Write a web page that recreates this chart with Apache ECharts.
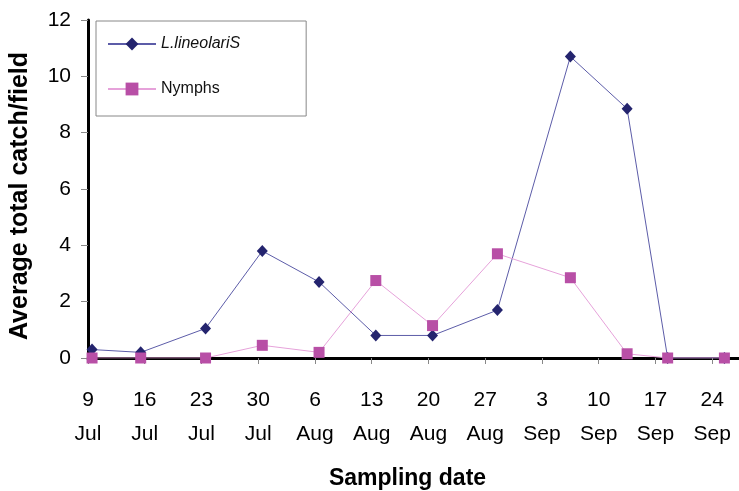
<!DOCTYPE html>
<html>
<head>
<meta charset="utf-8">
<script src="https://cdn.jsdelivr.net/npm/echarts@6/dist/echarts.min.js"></script>
<style>
html,body{margin:0;padding:0;background:#fff;}
#chart{width:739px;height:491px;}
</style>
</head>
<body>
<div id="chart"></div>
<script>
// Sampling dates (year arbitrary), first axis tick date
const axisStart = '2000-07-09';
const sampleDates = ['2000-07-09','2000-07-15','2000-07-23','2000-07-30','2000-08-06','2000-08-13','2000-08-20','2000-08-28','2000-09-06','2000-09-13','2000-09-18','2000-09-25'];
const adults = [0.3, 0.2, 1.05, 3.8, 2.7, 0.8, 0.8, 1.7, 10.7, 8.85, 0, 0];
const nymphs = [0, 0, 0, 0.45, 0.2, 2.75, 1.15, 3.7, 2.85, 0.15, 0, 0];
const tickDates = ['2000-07-09','2000-07-16','2000-07-23','2000-07-30','2000-08-06','2000-08-13','2000-08-20','2000-08-27','2000-09-03','2000-09-10','2000-09-17','2000-09-24'];
const tickLabels = ['9\nJul','16\nJul','23\nJul','30\nJul','6\nAug','13\nAug','20\nAug','27\nAug','3\nSep','10\nSep','17\nSep','24\nSep'];
const seriesNames = ['L.lineolariS', 'Nymphs'];

const DAY = 86400000;
const t0 = Date.parse(axisStart);
const dayOf = d => (Date.parse(d) - t0) / DAY;
// points sit in the middle of their day, ticks at day boundaries
const tickVals = tickDates.map(d => dayOf(d) - 0.5);

const font = 'Liberation Sans, Arial, sans-serif';
const chart = echarts.init(document.getElementById('chart'), null, {renderer: 'canvas'});
chart.setOption({
  animation: false,
  backgroundColor: '#fff',
  grid: {left: 88, right: 0, top: 20, bottom: 133, containLabel: false, outerBoundsMode: 'none'},
  legend: {
    orient: 'vertical', left: 96, top: 21,
    itemWidth: 48, itemHeight: 16, itemGap: 29,
    padding: [15, 66, 19, 11],
    borderColor: '#888', borderWidth: 1,
    data: seriesNames,
    formatter: n => n === seriesNames[0] ? '{i|' + n + '}' : n,
    textStyle: {fontSize: 16, color: '#111', fontFamily: font,
      rich: {i: {fontStyle: 'italic', fontSize: 16, color: '#111', fontFamily: font}}}
  },
  xAxis: {
    type: 'value', min: -0.5, max: 79.8,
    splitLine: {show: false},
    axisLine: {onZero: true, lineStyle: {color: '#000', width: 3}},
    axisTick: {customValues: tickVals, length: 6, lineStyle: {color: '#888'}},
    axisLabel: {
      customValues: tickVals,
      formatter: v => { const i = tickVals.findIndex(t => Math.abs(t - v) < 1e-6); return i >= 0 ? tickLabels[i] : ''; },
      fontSize: 21, lineHeight: 34, margin: 25, color: '#000', fontFamily: font
    },
    name: 'Sampling date', nameLocation: 'middle', nameGap: 109,
    nameTextStyle: {fontWeight: 'bold', fontSize: 23, color: '#000', fontFamily: font, padding: [0, 12, 0, 0]}
  },
  yAxis: {
    type: 'value', min: 0, max: 12, interval: 2,
    splitLine: {show: false},
    axisLine: {show: true, onZero: false, lineStyle: {color: '#000', width: 3}},
    axisTick: {show: true, length: 7, lineStyle: {color: '#888'}},
    axisLabel: {fontSize: 21, margin: 17, color: '#000', fontFamily: font},
    name: 'Average total catch/field', nameLocation: 'middle', nameGap: 55,
    nameTextStyle: {fontWeight: 'bold', fontSize: 25, color: '#000', fontFamily: font, padding: [0, 14, 0, 0]}
  },
  series: [
    {
      name: seriesNames[0], type: 'line',
      data: sampleDates.map((d, i) => [dayOf(d), adults[i]]),
      symbol: 'diamond', symbolSize: [11, 12],
      itemStyle: {color: '#24246e'},
      lineStyle: {color: '#5c5ca8', width: 1},
      z: 3
    },
    {
      name: seriesNames[1], type: 'line',
      data: sampleDates.map((d, i) => [dayOf(d), nymphs[i]]),
      symbol: 'rect', symbolSize: 11,
      itemStyle: {color: '#b84fa6'},
      lineStyle: {color: '#e6a2da', width: 1},
      z: 4
    }
  ]
});
</script>
</body>
</html>
